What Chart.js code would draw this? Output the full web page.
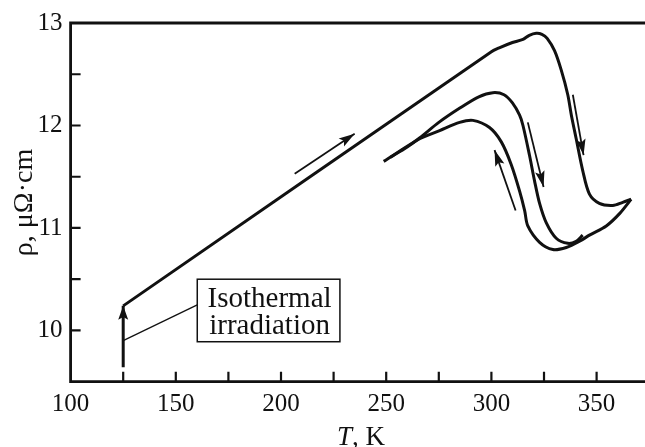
<!DOCTYPE html>
<html>
<head>
<meta charset="utf-8">
<script src="https://cdn.jsdelivr.net/npm/chart.js@4.4.0/dist/chart.umd.min.js"></script>
<style>
  html, body { margin: 0; padding: 0; background: #fff; }
  #wrap { width: 645px; height: 447px; }
</style>
</head>
<body>
<div id="wrap"><canvas id="chart" width="645" height="447"></canvas></div>
<script>
// first heating run, T in K, rho in microohm*cm
const heatT   = [125, 300, 304, 310, 315, 318, 321.3, 324, 326.5, 330, 333.2, 336.3, 338, 340.3, 343.4, 346.6, 351.3, 357.7, 362.4, 366.4];
const heatRho = [10.24, 12.72, 12.76, 12.81, 12.84, 12.88, 12.90, 12.89, 12.85, 12.73, 12.54, 12.30, 12.10, 11.87, 11.56, 11.33, 11.24, 11.22, 11.25, 11.28];

// cooling back to 250 K
const coolT   = [366.4, 360.9, 354.6, 346.6, 341.9, 335.6, 329.2, 322.9, 317.3, 315.8, 313.4, 309.4, 304.7, 299.1, 291.2, 284.9, 275.4, 265.9, 248.8];
const coolRho = [11.28, 11.14, 11.02, 10.93, 10.87, 10.81, 10.79, 10.86, 11.02, 11.17, 11.36, 11.62, 11.84, 11.98, 12.05, 12.03, 11.95, 11.87, 11.65];

// second heating
const reheatT   = [252, 260, 266, 275, 285, 294, 300.7, 306, 310, 313.4, 315, 318.1, 320.5, 322.9, 326.1, 330.8, 336.3, 340.3, 343.4];
const reheatRho = [11.69, 11.79, 11.88, 12.03, 12.17, 12.28, 12.32, 12.30, 12.22, 12.10, 12.00, 11.71, 11.46, 11.24, 11.05, 10.90, 10.85, 10.87, 10.93];

// isothermal irradiation step at 125 K
const irrT   = [125, 125];
const irrRho = [9.64, 10.24];

// direction arrows: [tail, tip]
const arrowT   = [[206.5, 235], [338.7, 343.8], [317.3, 324.8], [311.5, 301.5]];
const arrowRho = [[11.53, 11.92], [12.30, 11.71], [12.03, 11.40], [11.17, 11.76]];

// leader line from the step to the label box
const leaderT   = [125, 160.2];
const leaderRho = [9.90, 10.25];

const xTicksLabeled = [100, 150, 200, 250, 300, 350];
const yTicksLabeled = [10, 11, 12, 13];
const labelLines = ["Isothermal", "irradiation"];

const ink = "#111";
const serif = "'Liberation Serif', 'Times New Roman', serif";

const pts = (xs, ys) => xs.map((x, i) => ({ x: x, y: ys[i] }));

function curve(xs, ys) {
  return {
    data: pts(xs, ys),
    borderColor: ink,
    borderWidth: 3,
    pointRadius: 0,
    tension: 0.3,
    fill: false,
    borderJoinStyle: "round"
  };
}

const datasets = [
  curve(heatT, heatRho),
  curve(coolT, coolRho),
  curve(reheatT, reheatRho),
  { data: pts(irrT, irrRho), borderColor: ink, borderWidth: 3, pointRadius: 0, arrow: { len: 14, half: 5 } },
  { data: pts(leaderT, leaderRho), borderColor: ink, borderWidth: 1.3, pointRadius: 0 }
];
arrowT.forEach((t, i) => {
  datasets.push({ data: pts(t, arrowRho[i]), borderColor: ink, borderWidth: 1.8, pointRadius: 0, arrow: { len: 16, half: 4.8 } });
});

const extras = {
  id: "extras",
  afterDatasetsDraw(chart) {
    const ctx = chart.ctx;
    const a = chart.chartArea;
    const xs = chart.scales.x;
    const ys = chart.scales.y;
    ctx.save();
    ctx.strokeStyle = ink;
    ctx.fillStyle = ink;

    // arrowheads
    chart.data.datasets.forEach((ds, i) => {
      if (!ds.arrow) return;
      const el = chart.getDatasetMeta(i).data;
      const p0 = el[el.length - 2], p1 = el[el.length - 1];
      const ang = Math.atan2(p1.y - p0.y, p1.x - p0.x);
      ctx.save();
      ctx.translate(p1.x, p1.y);
      ctx.rotate(ang);
      ctx.beginPath();
      ctx.moveTo(0, 0);
      ctx.lineTo(-ds.arrow.len, -ds.arrow.half);
      ctx.lineTo(-ds.arrow.len * 0.8, 0);
      ctx.lineTo(-ds.arrow.len, ds.arrow.half);
      ctx.closePath();
      ctx.fill();
      ctx.restore();
    });

    // frame
    ctx.lineWidth = 2.8;
    ctx.beginPath();
    ctx.moveTo(chart.width, a.top);
    ctx.lineTo(a.left, a.top);
    ctx.lineTo(a.left, a.bottom);
    ctx.lineTo(chart.width, a.bottom);
    ctx.stroke();

    // inward ticks
    ctx.lineWidth = 2.2;
    ctx.beginPath();
    xs.ticks.forEach(t => {
      if (t.value % 25 !== 0 || t.value <= xs.min) return;
      const px = xs.getPixelForValue(t.value);
      ctx.moveTo(px, a.bottom);
      ctx.lineTo(px, a.bottom - 10);
    });
    ys.ticks.forEach(t => {
      if (t.value <= ys.min || t.value >= ys.max) return;
      const py = ys.getPixelForValue(t.value);
      ctx.moveTo(a.left, py);
      ctx.lineTo(a.left + 10, py);
    });
    ctx.stroke();

    // label box
    const bx0 = xs.getPixelForValue(160.2), bx1 = xs.getPixelForValue(228);
    const by0 = ys.getPixelForValue(10.50), by1 = ys.getPixelForValue(9.89);
    ctx.lineWidth = 1.5;
    ctx.strokeRect(bx0, by0, bx1 - bx0, by1 - by0);
    ctx.font = "29px " + serif;
    ctx.textAlign = "center";
    ctx.textBaseline = "alphabetic";
    ctx.fillText(labelLines[0], (bx0 + bx1) / 2 + 1, by0 + 28);
    ctx.fillText(labelLines[1], (bx0 + bx1) / 2 + 1, by0 + 55);

    // x title: italic T
    ctx.textAlign = "left";
    ctx.font = "italic 27px " + serif;
    const wT = ctx.measureText("T").width;
    ctx.font = "27px " + serif;
    const wR = ctx.measureText(", K").width;
    const cx = 361 - (wT + wR) / 2;
    ctx.font = "italic 27px " + serif;
    ctx.fillText("T", cx, 445);
    ctx.font = "27px " + serif;
    ctx.fillText(", K", cx + wT, 445);

    // y title
    ctx.save();
    ctx.translate(32, 202.5);
    ctx.rotate(-Math.PI / 2);
    ctx.textAlign = "center";
    ctx.font = "28px " + serif;
    ctx.fillText("\u03c1, \u03bc\u03a9\u00b7cm", 0, 0);
    ctx.restore();

    ctx.restore();
  }
};

new Chart(document.getElementById("chart"), {
  type: "line",
  data: { datasets: datasets },
  options: {
    responsive: false,
    animation: false,
    events: [],
    layout: { padding: { top: 15, right: 0, bottom: 0, left: 0 } },
    plugins: { legend: { display: false }, tooltip: { enabled: false } },
    scales: {
      x: {
        type: "linear",
        min: 100,
        max: 373,
        grid: { display: false, drawTicks: false },
        border: { display: false },
        afterFit: s => { s.height = 65.3; },
        ticks: {
          stepSize: 25,
          includeBounds: false,
          autoSkip: false,
          maxRotation: 0,
          padding: 8,
          color: ink,
          font: { family: serif, size: 25 },
          callback: v => xTicksLabeled.includes(v) ? String(v) : ""
        }
      },
      y: {
        type: "linear",
        min: 9.5,
        max: 13,
        grid: { display: false, drawTicks: false },
        border: { display: false },
        afterFit: s => { s.width = 70.6; },
        ticks: {
          stepSize: 0.5,
          autoSkip: false,
          padding: 8,
          color: ink,
          font: { family: serif, size: 25 },
          callback: v => yTicksLabeled.includes(v) ? String(v) : ""
        }
      }
    }
  },
  plugins: [extras]
});
</script>
</body>
</html>
